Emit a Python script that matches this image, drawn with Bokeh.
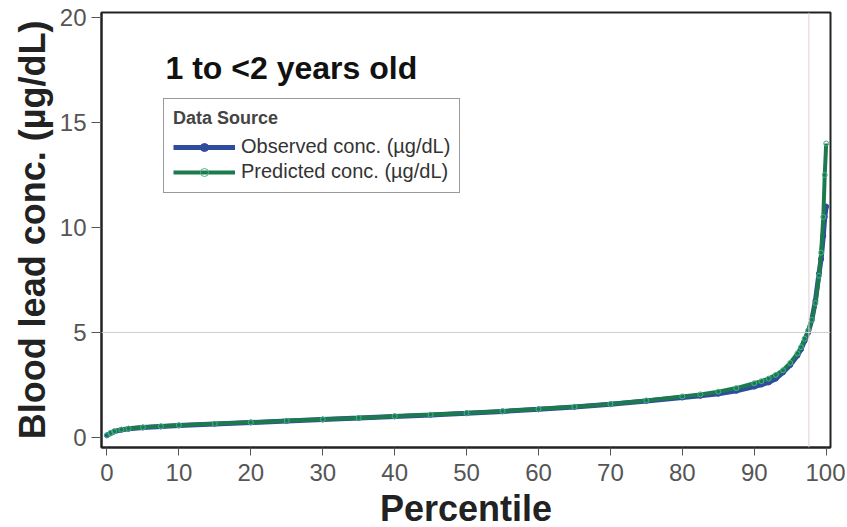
from bokeh.plotting import figure
from bokeh.models import Span, Label, Legend, LegendItem, Range1d, FixedTicker
from bokeh.embed import file_html
from bokeh.resources import INLINE

percentile = [0, 0.5, 1, 2, 3, 5, 7.5, 10, 15, 20, 25, 30, 35, 40, 45, 50, 55, 60, 65, 70,
              75, 80, 82.5, 85, 87.5, 90, 91, 92, 93, 94, 95, 96, 96.5, 97, 97.5, 98, 98.5,
              99, 99.3, 99.6, 99.8, 100]
observed = [0.10, 0.20, 0.28, 0.36, 0.41, 0.47, 0.52, 0.57, 0.64, 0.71, 0.78, 0.85, 0.92,
            1.00, 1.07, 1.15, 1.24, 1.34, 1.45, 1.58, 1.74, 1.90, 1.98, 2.08, 2.22, 2.42,
            2.52, 2.62, 2.80, 3.10, 3.45, 3.90, 4.20, 4.60, 5.00, 5.60, 6.50, 7.80, 8.50,
            9.60, 10.50, 11.00]
predicted = [0.10, 0.21, 0.29, 0.37, 0.42, 0.48, 0.53, 0.58, 0.65, 0.72, 0.79, 0.86, 0.93,
             1.01, 1.08, 1.16, 1.25, 1.35, 1.46, 1.59, 1.76, 1.95, 2.05, 2.18, 2.35, 2.58,
             2.68, 2.80, 2.98, 3.20, 3.55, 4.00, 4.30, 4.70, 5.10, 5.60, 6.40, 7.70, 8.80,
             10.50, 12.50, 14.00]

x_ticks = [0, 10, 20, 30, 40, 50, 60, 70, 80, 90, 100]
y_ticks = [0, 5, 10, 15, 20]

FONT = "Liberation Sans"

p = figure(width=845, height=525, frame_width=729, frame_height=435,
           min_border_left=101, min_border_right=15, min_border_top=12, min_border_bottom=78,
           output_backend="svg", toolbar_location=None,
           x_range=Range1d(-0.76, 100.6), y_range=Range1d(-0.48, 20.24))

p.xgrid.visible = False
p.ygrid.visible = False
p.outline_line_color = "#222222"
p.outline_line_width = 2
p.background_fill_color = "white"

p.add_layout(Span(location=5, dimension="width", line_color="#cccccc", line_width=1))
p.add_layout(Span(location=97.6, dimension="height", line_color="#e0cfd4", line_width=1))

r_obs_l = p.line(percentile, observed, line_color="#2f4d9e", line_width=5)
r_obs_m = p.scatter(percentile, observed, size=5, fill_color="#2f4d9e", line_color="#2f4d9e")
r_pred_l = p.line(percentile, predicted, line_color="#1d7a4f", line_width=4)
r_pred_m = p.scatter(percentile, predicted, size=5, fill_color=None, line_color="#45b48a")

for ax in (p.xaxis[0], p.yaxis[0]):
    ax.axis_line_color = "#222222"
    ax.axis_line_width = 2
    ax.major_tick_line_color = "#555555"
    ax.major_tick_in = 0
    ax.minor_tick_line_color = None
    ax.major_label_text_font = FONT
    ax.major_label_text_font_size = "24px"
    ax.major_label_text_color = "#555555"
    ax.axis_label_text_font = FONT
    ax.axis_label_text_font_style = "bold"
    ax.axis_label_text_color = "#222222"
    ax.axis_label_text_font_size = "36px"

p.xaxis.ticker = FixedTicker(ticks=x_ticks)
p.yaxis.ticker = FixedTicker(ticks=y_ticks)
p.xaxis.major_tick_out = 8
p.xaxis.major_label_standoff = 8
p.yaxis.major_tick_out = 10
p.yaxis.major_label_standoff = 5
p.xaxis.axis_label = "Percentile"
p.xaxis.axis_label_standoff = 4
p.yaxis.axis_label = "Blood lead conc. (µg/dL)"
p.yaxis.axis_label_standoff = 4

p.add_layout(Label(x=64, y=362, x_units="screen", y_units="screen",
                   text="1 to <2 years old", text_font=FONT, text_font_style="bold",
                   text_font_size="32px", text_color="#111111"))

legend = Legend(items=[
    LegendItem(label="Observed conc. (µg/dL)", renderers=[r_obs_l, r_obs_m]),
    LegendItem(label="Predicted conc. (µg/dL)", renderers=[r_pred_l, r_pred_m]),
], location=(62, 254), title="Data Source")
legend.title_text_font = FONT
legend.title_text_font_style = "bold"
legend.title_text_font_size = "18px"
legend.title_standoff = 6
legend.label_text_font = FONT
legend.label_text_font_size = "20px"
legend.label_text_color = "#333333"
legend.label_height = 22
legend.label_standoff = 6
legend.border_line_color = "#333333"
legend.border_line_width = 1
legend.glyph_width = 62
legend.padding = 9
legend.spacing = 2
legend.margin = 0
p.add_layout(legend)

open("out.html", "w").write(file_html(p, INLINE))
